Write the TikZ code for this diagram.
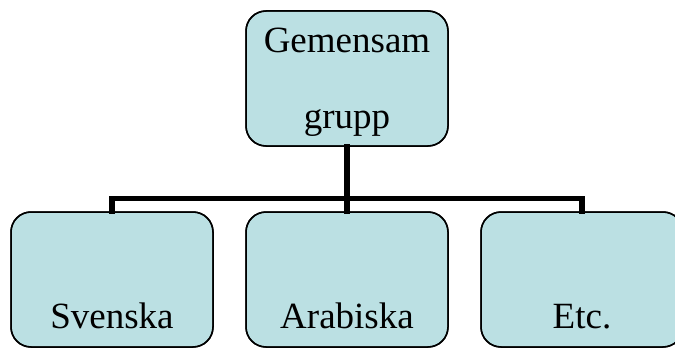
\documentclass[tikz,border=0pt]{standalone}
\usepackage{fontspec}
\setmainfont{Liberation Serif}
\definecolor{boxfill}{RGB}{187,224,227}
\begin{document}
\begin{tikzpicture}[x=1pt,y=1pt,
  orgbox/.style={draw=black, line width=1.5pt, fill=boxfill, rounded corners=20pt,
    minimum width=202pt, minimum height=135pt, inner sep=0pt},
  boxtext/.style={anchor=base, inner sep=0pt, font=\fontsize{37}{44}\selectfont},
  conn/.style={line width=5.5pt, line cap=rect}]
\useasboundingbox (0,0) rectangle (675,349);
\clip (0,0) rectangle (675,349);
% boxes
\node[orgbox] (top) at (347,270.5) {};
\node[orgbox] (b1) at (112,69.5) {};
\node[orgbox] (b2) at (347,69.5) {};
\node[orgbox] (b3) at (582,69.5) {};
% connectors
\coordinate (j) at (347,150.3);
\draw[conn] (top.south) -- (j);
\draw[conn] (j) -| (b1.north);
\draw[conn] (j) -| (b3.north);
\draw[conn] (j) -- (b2.north);
% redraw box outlines on top of connector ends
\node[orgbox, fill=none] at (b1) {};
\node[orgbox, fill=none] at (b2) {};
\node[orgbox, fill=none] at (b3) {};
\node[orgbox, fill=none] at (top) {};
% texts
\node[boxtext] (t1) at (347,297) {Gemensam};
\node[boxtext] (t2) at (347,221) {grupp};
\node[boxtext] (s1) at (112,21) {Svenska};
\node[boxtext] (s2) at (347,21) {Arabiska};
\node[boxtext] (s3) at (582,21) {Etc.};
\end{tikzpicture}
\end{document}
